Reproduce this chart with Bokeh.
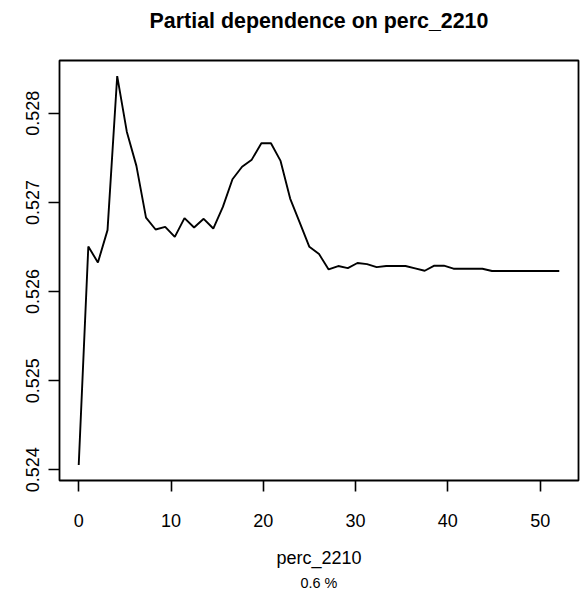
from bokeh.plotting import figure
from bokeh.models import Range1d, FixedTicker, PrintfTickFormatter, Title
from bokeh.embed import file_html
from bokeh.resources import INLINE

# Partial dependence values
x_vals = [0.0, 1.04, 2.08, 3.12, 4.17, 5.21, 6.25, 7.29, 8.33, 9.37,
          10.41, 11.46, 12.50, 13.54, 14.58, 15.62, 16.66, 17.70, 18.75, 19.79,
          20.83, 21.87, 22.91, 23.95, 24.99, 26.04, 27.08, 28.12, 29.16, 30.20,
          31.24, 32.28, 33.32, 34.37, 35.41, 36.45, 37.49, 38.53, 39.57, 40.61,
          41.66, 42.70, 43.74, 44.78, 45.82, 46.86, 47.90, 48.94, 49.99, 51.03,
          52.07]
y_vals = [0.524054, 0.526505, 0.526326, 0.526689, 0.528418, 0.527794, 0.527410,
          0.526830, 0.526696, 0.526726, 0.526614, 0.526824, 0.526718, 0.526816,
          0.526707, 0.526950, 0.527260, 0.527400, 0.527480, 0.527664, 0.527664,
          0.527466, 0.527043, 0.526774, 0.526502, 0.526420, 0.526248, 0.526286,
          0.526263, 0.526320, 0.526308, 0.526274, 0.526286, 0.526286, 0.526286,
          0.526260, 0.526233, 0.526290, 0.526290, 0.526256, 0.526256, 0.526256,
          0.526256, 0.526230, 0.526230, 0.526230, 0.526230, 0.526230, 0.526230,
          0.526230, 0.526230]
x_ticks = [0, 10, 20, 30, 40, 50]
y_ticks = [0.524, 0.525, 0.526, 0.527, 0.528]
title_text = "Partial dependence on perc_2210"
x_label = "perc_2210"
sub_text = "0.6 %"

FONT = "Liberation Sans"

xspan = max(x_vals) - min(x_vals)
yspan = max(y_vals) - min(y_vals)

p = figure(width=582, height=595, output_backend="svg", toolbar_location=None,
           x_range=Range1d(min(x_vals) - 0.04 * xspan, max(x_vals) + 0.04 * xspan),
           y_range=Range1d(min(y_vals) - 0.04 * yspan, max(y_vals) + 0.04 * yspan),
           min_border_left=59, min_border_right=4, min_border_top=60,
           min_border_bottom=115)

p.title.text = title_text
p.title.align = "center"
p.title.vertical_align = "bottom"
p.title.text_font = FONT
p.title.text_font_size = "21.4px"
p.title.text_font_style = "bold"
p.title.text_color = "black"
p.title.standoff = 10

# invisible spacer between the title and the plot frame
spacer = Title(text=" ", text_font_size="1px", text_color="white", standoff=20)
p.add_layout(spacer, "above")

p.line(x_vals, y_vals, line_color="black", line_width=1.9)

p.xgrid.visible = False
p.ygrid.visible = False
p.outline_line_color = "black"
p.outline_line_width = 1.8
p.background_fill_color = "white"
p.border_fill_color = "white"

for ax in (p.xaxis[0], p.yaxis[0]):
    ax.axis_line_color = None
    ax.major_tick_line_color = "black"
    ax.major_tick_line_width = 1.6
    ax.major_tick_out = 11
    ax.major_tick_in = 0
    ax.minor_tick_line_color = None
    ax.major_label_text_font = FONT
    ax.major_label_text_font_size = "18px"
    ax.major_label_text_color = "black"
    ax.axis_label_text_font = FONT
    ax.axis_label_text_font_size = "18px"
    ax.axis_label_text_font_style = "normal"
    ax.axis_label_text_color = "black"

p.xaxis.ticker = FixedTicker(ticks=x_ticks)
p.yaxis.ticker = FixedTicker(ticks=y_ticks)
p.yaxis.formatter = PrintfTickFormatter(format="%.3f")
p.yaxis.major_label_orientation = "vertical"
p.yaxis.major_label_standoff = 9
p.xaxis.major_label_standoff = 22
p.xaxis.axis_label = x_label
p.xaxis.axis_label_standoff = 18

sub = Title(text=sub_text, align="center", text_font=FONT, text_font_size="14.4px",
            text_font_style="normal", text_color="black", standoff=4)
p.add_layout(sub, "below")

open("out.html", "w").write(file_html(p, INLINE))
